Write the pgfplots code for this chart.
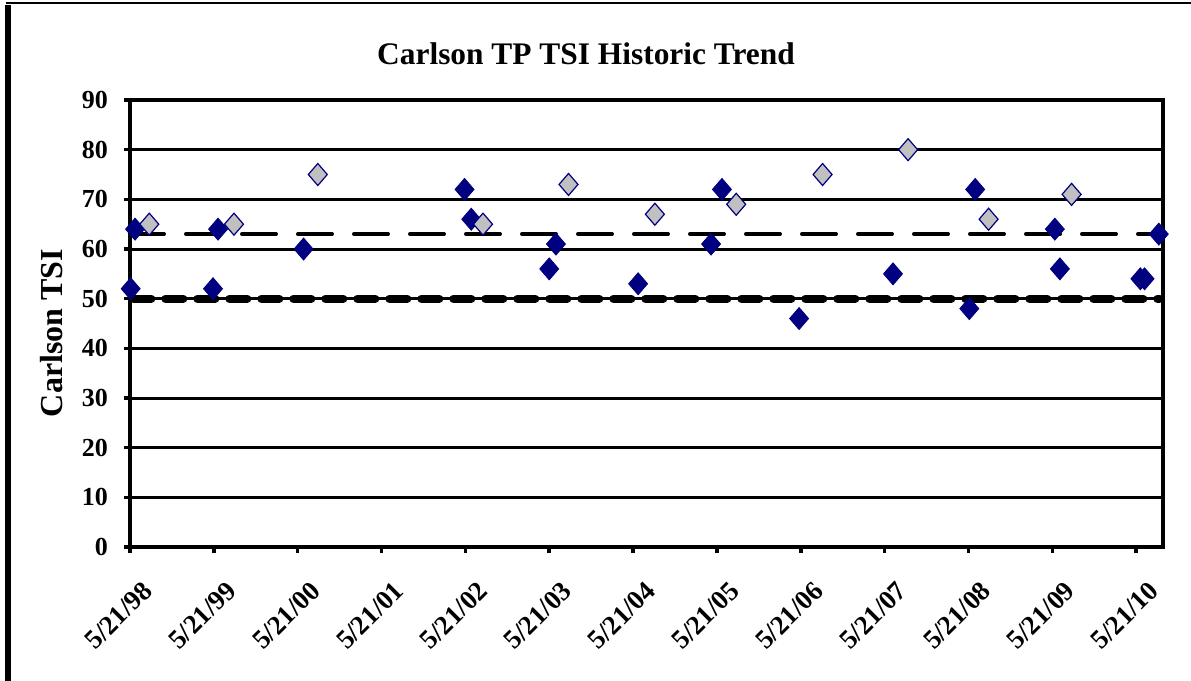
\documentclass[border=0pt]{standalone}
\usepackage{fontspec}
\setmainfont{Liberation Serif}
\usepackage{pgfplots}
\pgfplotsset{compat=1.18}
\definecolor{navy}{HTML}{000080}
\definecolor{silv}{HTML}{C0C0C0}

\pgfplotstableread{
yr    tsi
0.008 52
0.06  64
0.99  52
1.05  64
2.07  60
3.99  72
4.07  66
5.00  56
5.08  61
6.06  53
6.93  61
7.06  72
7.98  46
9.10  55
10.01 48
10.08 72
11.03 64
11.09 56
12.05 54
12.10 54
12.27 63
}\tpdata

\pgfplotstableread{
yr    tsi
0.23  65
1.24  65
2.24  75
4.21  65
5.23  73
6.26  67
7.23  69
8.26  75
9.28  80
10.24 66
11.23 71
}\tpother

\begin{document}
\begin{tikzpicture}
\useasboundingbox (-65pt,-67pt) rectangle (530.5pt,273.5pt);
\fill[white] (-65pt,-67pt) rectangle (530.5pt,273.5pt);
% outer chart frame (bottom and right are cut off)
\draw[line width=2.8pt] (-61pt,-80pt) -- (-61pt,271pt);
\draw[line width=1.2pt] (-62pt,272pt) -- (540pt,272pt);
\begin{axis}[
  scale only axis,
  width=516.5pt,
  height=223.5pt,
  at={(0,0)},
  anchor=south west,
  xmin=0, xmax=12.32,
  ymin=0, ymax=90,
  clip=false,
  axis line style={line width=2pt},
  xtick={0,1,...,12},
  xticklabels={5/21/98,5/21/99,5/21/00,5/21/01,5/21/02,5/21/03,5/21/04,5/21/05,5/21/06,5/21/07,5/21/08,5/21/09,5/21/10},
  ytick={0,10,...,90},
  tick pos=left,
  tick align=outside,
  major tick length=3pt,
  tick style={black,line width=1.8pt},
  ymajorgrids,
  major grid style={black,line width=1.5pt},
  /pgf/number format/assume math mode=true,
  tick label style={font=\bfseries\fontsize{13}{15}\selectfont},
  xticklabel style={rotate=45,anchor=east,yshift=-18pt,xshift=-2pt,font=\bfseries\fontsize{13.5}{16}\selectfont},
  yticklabel style={xshift=-4.5pt},
]
\addplot[black,line width=2pt,line cap=round,dash pattern=on 17pt off 11pt] coordinates {(0,63) (12.32,63)};
\addplot[black,line width=4pt,line cap=round,dash pattern=on 9pt off 7pt] coordinates {(0.04,50) (12.28,50)};
\addplot[only marks,mark=diamond*,mark size=5.5pt,color=navy,mark options={xscale=1.15,fill=navy,draw=navy}] table[x=yr,y=tsi] {\tpdata};
\addplot[only marks,mark=diamond*,mark size=5.5pt,mark options={xscale=1.15,fill=silv,draw=navy,line width=0.6pt}] table[x=yr,y=tsi] {\tpother};
\end{axis}
\node[anchor=base,font=\bfseries\fontsize{15.7}{18}\selectfont] at (228pt,241pt) {Carlson TP TSI Historic Trend};
\node[rotate=90,anchor=base,font=\bfseries\fontsize{16}{19}\selectfont] at (-33.5pt,107pt) {Carlson TSI};
\end{tikzpicture}
\end{document}
